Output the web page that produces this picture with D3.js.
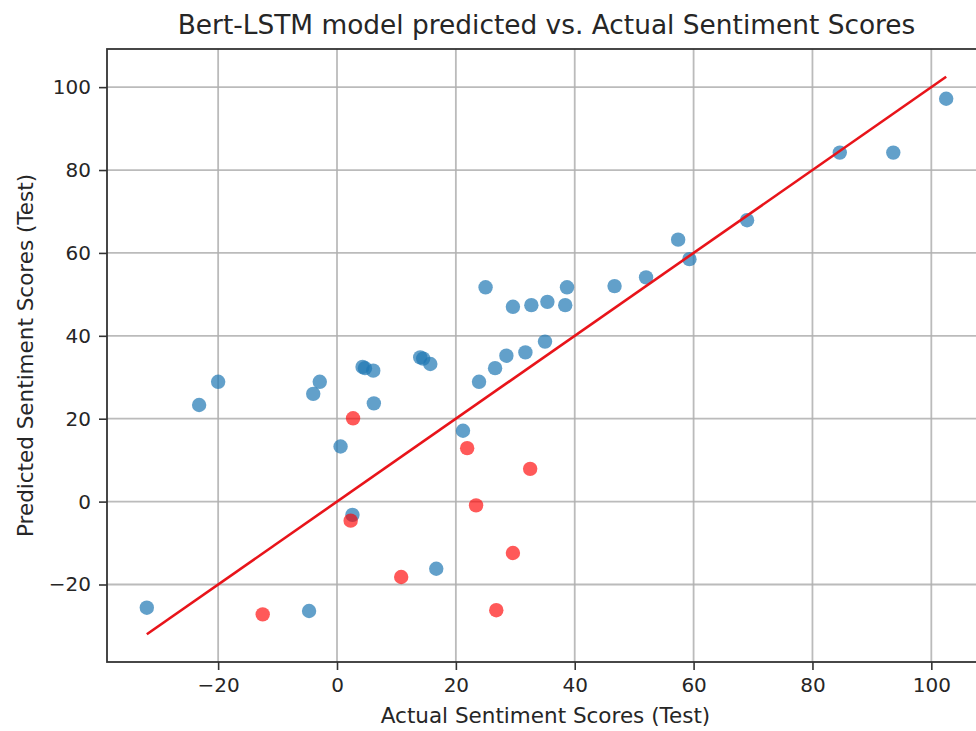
<!DOCTYPE html>
<html><head><meta charset="utf-8">
<script src="https://cdn.jsdelivr.net/npm/d3@7"></script>
<style>body{margin:0;background:#fff}svg{display:block}text{font-family:"DejaVu Sans",sans-serif;fill:#262626}</style>
</head><body>
<script>
const title = "Bert-LSTM model predicted vs. Actual Sentiment Scores";
const xLabel = "Actual Sentiment Scores (Test)";
const yLabel = "Predicted Sentiment Scores (Test)";
const xTicks = [-20, 0, 20, 40, 60, 80, 100];
const yTicks = [-20, 0, 20, 40, 60, 80, 100];
// close predictions (blue)
const actualClose =    [-32, -23.2, -20, -4, -2.9, 0.6, 2.6, 4.3, 4.7, 6.1, 6.2, -4.7, 14.0, 14.5, 15.7, 16.7, 21.2, 23.9, 25, 26.6, 28.5, 29.6, 31.7, 32.7, 35.0, 35.4, 38.4, 38.7, 46.7, 52, 57.4, 59.3, 69, 84.6, 93.6, 102.5];
const predictedClose = [-25.6, 23.3, 28.9, 26, 28.9, 13.3, -3.2, 32.5, 32.2, 31.6, 23.7, -26.4, 34.8, 34.5, 33.2, -16.2, 17.1, 28.9, 51.7, 32.2, 35.2, 47, 36, 47.4, 38.6, 48.2, 47.4, 51.7, 52, 54.1, 63.2, 58.5, 67.9, 84.2, 84.2, 97.2];
// large errors (red)
const actualFar =    [-12.5, 2.7, 2.3, 10.8, 21.9, 23.4, 26.8, 29.6, 32.5];
const predictedFar = [-27.2, 20.1, -4.6, -18.2, 12.9, -0.9, -26.2, -12.4, 7.9];
const lineEnds = [-32, 102.5];

const W = 976, H = 731;
const svg = d3.select("body").append("svg").attr("width", W).attr("height", H);
const L = 107, R = 986, T = 49, B = 662;
const x = d3.scaleLinear().domain([-38.7, 109.2]).range([L, R]);
const y = d3.scaleLinear().domain([-38.7, 109.2]).range([B, T]);
const fmt = d => d < 0 ? "\u2212" + Math.abs(d) : String(d);

// grid
const g = svg.append("g");
g.selectAll(".gx").data(xTicks).join("line")
  .attr("x1", d => x(d)).attr("x2", d => x(d)).attr("y1", T).attr("y2", B)
  .attr("stroke", "#b0b0b0").attr("stroke-width", 1.8).attr("opacity", 0.85);
g.selectAll(".gy").data(yTicks).join("line")
  .attr("y1", d => y(d)).attr("y2", d => y(d)).attr("x1", L).attr("x2", R)
  .attr("stroke", "#b0b0b0").attr("stroke-width", 1.8).attr("opacity", 0.85);

// axes
const xAxis = svg.append("g").attr("transform", `translate(0,${B})`)
  .call(d3.axisBottom(x).tickValues(xTicks).tickFormat(fmt).tickSize(8).tickPadding(8));
const yAxis = svg.append("g").attr("transform", `translate(${L},0)`)
  .call(d3.axisLeft(y).tickValues(yTicks).tickFormat(fmt).tickSize(8).tickPadding(8));
[xAxis, yAxis].forEach(a => {
  a.select(".domain").remove();
  a.selectAll(".tick line").attr("stroke", "#333").attr("stroke-width", 1.6);
  a.selectAll(".tick text").attr("font-size", 20).attr("fill", "#262626")
    .style("font-family", "DejaVu Sans, sans-serif");
});
// spines
svg.append("rect").attr("x", L).attr("y", T).attr("width", R - L).attr("height", B - T)
  .attr("fill", "none").attr("stroke", "#333").attr("stroke-width", 1.8);

// points
svg.append("g").selectAll("circle").data(actualClose.map((a, i) => [a, predictedClose[i]])).join("circle")
  .attr("cx", d => x(d[0])).attr("cy", d => y(d[1])).attr("r", 7.2)
  .attr("fill", "#1f77b4").attr("fill-opacity", 0.7);
svg.append("g").selectAll("circle").data(actualFar.map((a, i) => [a, predictedFar[i]])).join("circle")
  .attr("cx", d => x(d[0])).attr("cy", d => y(d[1])).attr("r", 7.2)
  .attr("fill", "#ff0000").attr("fill-opacity", 0.65);

// identity line
svg.append("line")
  .attr("x1", x(lineEnds[0])).attr("y1", y(lineEnds[0]))
  .attr("x2", x(lineEnds[1])).attr("y2", y(lineEnds[1]))
  .attr("stroke", "#e8141a").attr("stroke-width", 2.6);

// texts
svg.append("text").attr("x", (L + R) / 2).attr("y", 33.5).attr("text-anchor", "middle")
  .attr("font-size", 26.4).text(title);
svg.append("text").attr("x", (L + R) / 2 - 1).attr("y", 723).attr("text-anchor", "middle")
  .attr("font-size", 21.5).text(xLabel);
svg.append("text").attr("transform", `translate(33,${(T + B) / 2}) rotate(-90)`)
  .attr("text-anchor", "middle").attr("font-size", 21.5).text(yLabel);
</script>
</body></html>
